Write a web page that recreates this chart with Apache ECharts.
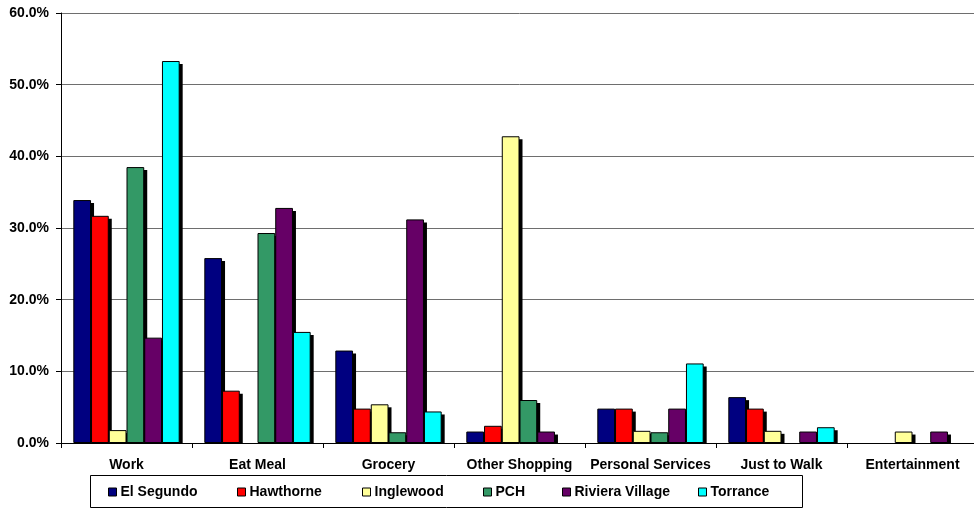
<!DOCTYPE html>
<html>
<head>
<meta charset="utf-8">
<title>Trip Purpose by Location</title>
<script src="https://cdn.jsdelivr.net/npm/echarts@6/dist/echarts.min.js"></script>
<style>
  html, body { margin: 0; padding: 0; background: #ffffff; overflow: hidden; }
  /* canvas is a little wider than the window: the last category runs off the right edge */
  #chart { width: 984px; height: 510px; }
</style>
</head>
<body>
<div id="chart"></div>
<script>
// Trip purposes along the x axis
const categories = ['Work', 'Eat Meal', 'Grocery', 'Other Shopping', 'Personal Services', 'Just to Walk', 'Entertainment'];

// Share of trips (%) per location, one value per purpose
const elSegundo      = [33.9, 25.8, 12.9,  1.6,  4.8, 6.4, 0];
const hawthorne      = [31.7,  7.3,  4.8,  2.4,  4.8, 4.8, 0];
const inglewood      = [ 1.8,  0,    5.4, 42.8,  1.7, 1.7, 1.6];
const pch            = [38.5, 29.3,  1.5,  6.0,  1.5, 0,   0];
const rivieraVillage = [14.7, 32.8, 31.2,  1.6,  4.8, 1.6, 1.6];
const torrance       = [53.3, 15.5,  4.4,  0,   11.1, 2.2, 0];

// Value axis tick values (%)
const yTicks = [0, 10, 20, 30, 40, 50, 60];

const seriesDefs = [
  { name: 'El Segundo',      data: elSegundo,      color: '#000080' },
  { name: 'Hawthorne',       data: hawthorne,      color: '#FF0000' },
  { name: 'Inglewood',       data: inglewood,      color: '#FFFF99' },
  { name: 'PCH',             data: pch,            color: '#339966' },
  { name: 'Riviera Village', data: rivieraVillage, color: '#660066' },
  { name: 'Torrance',        data: torrance,       color: '#00FFFF' }
];

// Left edge of each legend entry
const legendLeft = [108, 237, 362, 483, 562, 698];

const font = '"Liberation Sans", Arial, sans-serif';
const SHADE = 3; // drop-shadow offset in px

// zero shares get no bar at all
const toBars = arr => arr.map(v => (v === 0 ? '-' : v));

const plot = { left: 61, top: 13, width: 917, height: 430 };
const barLayout = { barGap: '0%', barCategoryGap: '18.8%' };

const chart = echarts.init(document.getElementById('chart'), null, { renderer: 'canvas' });

const option = {
  backgroundColor: '#ffffff',
  animation: false,
  grid: [
    { left: plot.left, top: plot.top, width: plot.width, height: plot.height },
    // same-size plot shifted down/right: carries the drop shadows
    { left: plot.left + SHADE, top: plot.top + SHADE, width: plot.width, height: plot.height }
  ],
  xAxis: [
    {
      type: 'category',
      data: categories,
      gridIndex: 0,
      z: 6,
      axisLine: { show: true, lineStyle: { color: '#000000', width: 1 } },
      axisTick: { show: true, interval: 0, alignWithLabel: false, length: 5, lineStyle: { color: '#000000' } },
      axisLabel: {
        interval: 0, margin: 15,
        color: '#000000', fontFamily: font, fontWeight: 'bold', fontSize: 14
      },
      splitLine: { show: false }
    },
    { type: 'category', data: categories, gridIndex: 1, show: false }
  ],
  yAxis: [
    {
      type: 'value',
      gridIndex: 0,
      min: yTicks[0],
      max: yTicks[yTicks.length - 1],
      interval: yTicks[1] - yTicks[0],
      axisLine: { show: true, lineStyle: { color: '#000000', width: 1 } },
      axisTick: { show: true, inside: false, length: 5, lineStyle: { color: '#000000' } },
      axisLabel: {
        margin: 12,
        color: '#000000', fontFamily: font, fontWeight: 'bold', fontSize: 14,
        formatter: v => v.toFixed(1) + '%'
      },
      splitLine: { show: true, lineStyle: { color: '#6e6e6e', width: 1 } }
    },
    {
      type: 'value', gridIndex: 1, show: false,
      min: yTicks[0], max: yTicks[yTicks.length - 1], interval: yTicks[1] - yTicks[0],
      splitLine: { show: false }
    }
  ],
  legend: seriesDefs.map((s, i) => ({
    data: [{ name: s.name }],
    left: legendLeft[i],
    top: 485,
    padding: 0,
    itemWidth: 8,
    itemHeight: 8,
    itemGap: 0,
    icon: 'rect',
    selectedMode: false,
    itemStyle: { borderColor: '#000000', borderWidth: 1 },
    textStyle: { color: '#000000', fontFamily: font, fontWeight: 'bold', fontSize: 14, padding: [0, 0, 0, -1] }
  })),
  graphic: [
    // legend frame
    {
      type: 'rect', z: 1,
      shape: { x: 90.5, y: 475.5, width: 712, height: 32 },
      style: { fill: 'none', stroke: '#000000', lineWidth: 1 }
    },
    // keeps the drop shadows from spilling below the category axis
    {
      type: 'rect', z: 5, silent: true,
      shape: { x: 62, y: 443.5, width: 920, height: 5 },
      style: { fill: '#ffffff' }
    }
  ],
  series: [
    // drop shadows
    ...seriesDefs.map((s, i) => ({
      name: 'shade-' + i,
      type: 'bar',
      xAxisIndex: 1,
      yAxisIndex: 1,
      data: toBars(s.data),
      ...barLayout,
      z: 1,
      silent: true,
      itemStyle: { color: '#000000' },
      emphasis: { disabled: true }
    })),
    // bars
    ...seriesDefs.map(s => ({
      name: s.name,
      type: 'bar',
      xAxisIndex: 0,
      yAxisIndex: 0,
      data: toBars(s.data),
      ...barLayout,
      z: 2,
      itemStyle: { color: s.color, borderColor: '#000000', borderWidth: 1 },
      emphasis: { disabled: true }
    }))
  ]
};

chart.setOption(option);
</script>
</body>
</html>
